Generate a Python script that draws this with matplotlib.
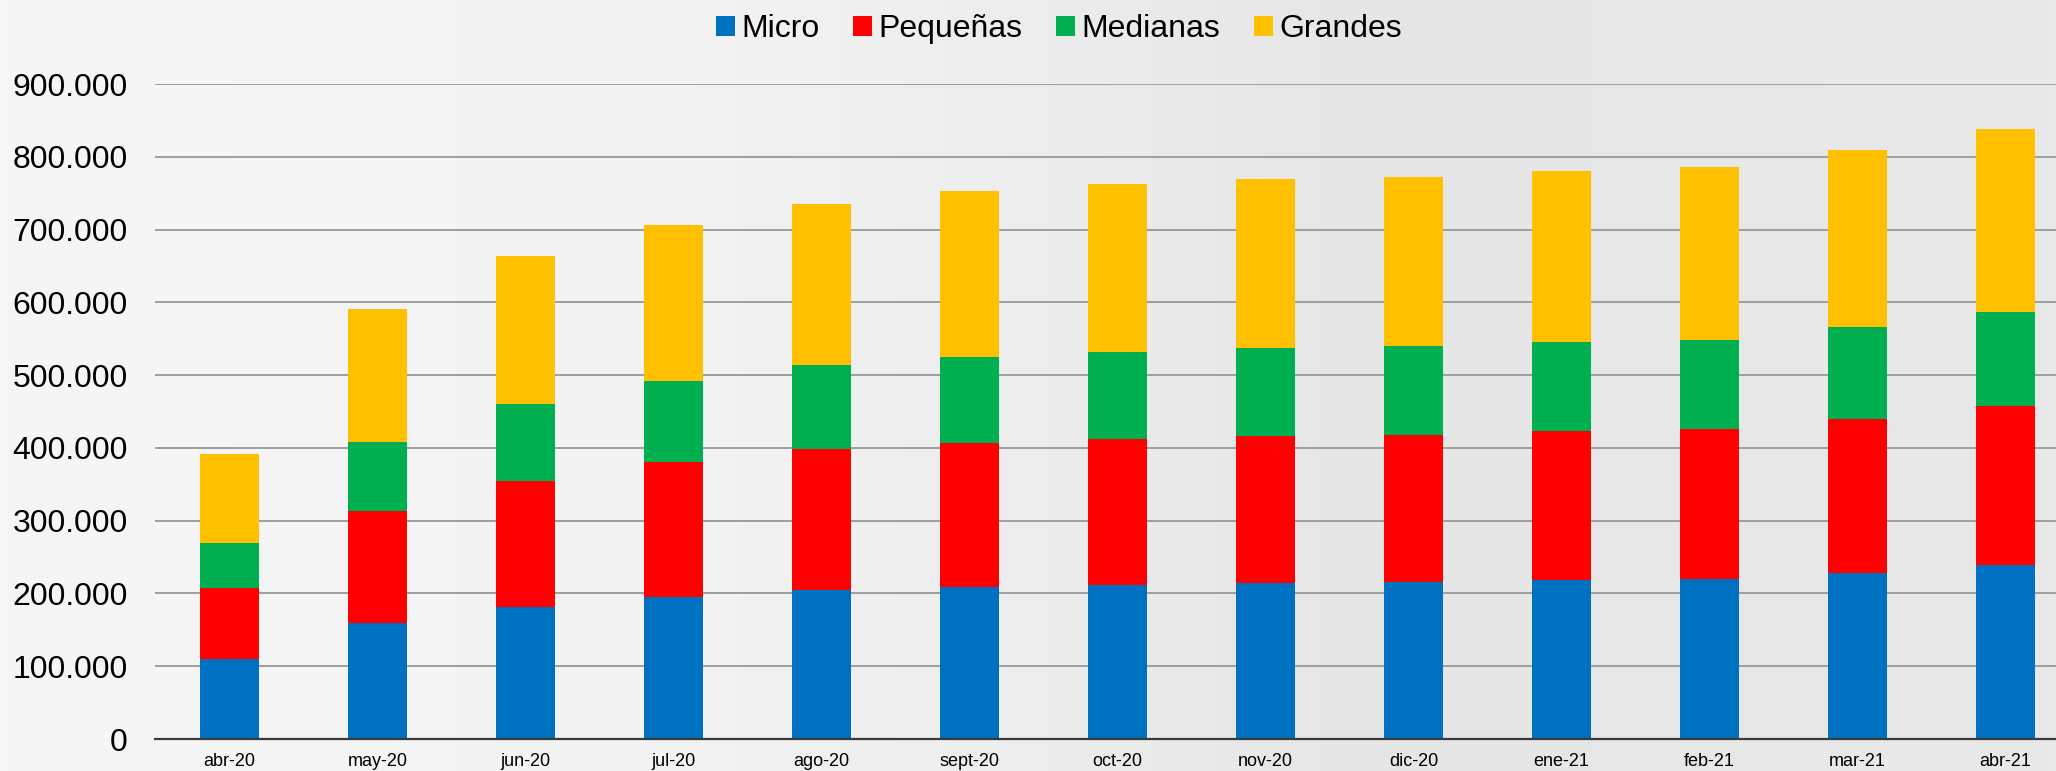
import matplotlib

matplotlib.use("Agg")
import matplotlib.pyplot as plt
import numpy as np
from matplotlib.ticker import FuncFormatter

plt.rcParams["font.family"] = ["Liberation Sans", "DejaVu Sans"]

months = ["abr-20", "may-20", "jun-20", "jul-20", "ago-20", "sept-20", "oct-20",
          "nov-20", "dic-20", "ene-21", "feb-21", "mar-21", "abr-21"]
micro = [110300, 158900, 180900, 194600, 204200, 209200, 212000,
         213800, 215700, 218000, 219800, 228000, 239400]
pequenas = [97500, 154700, 173900, 186400, 193700, 197400, 200100,
            202000, 202300, 205100, 206000, 212000, 218400]
medianas = [61400, 94400, 105400, 110800, 115400, 118100, 119900,
            120900, 121400, 122200, 122700, 125900, 128700]
grandes = [122700, 183100, 203300, 214200, 222000, 228000, 230400,
           232500, 233500, 235800, 237200, 244100, 251400]

series = [
    ("Micro", micro, "#0070C0"),
    ("Pequeñas", pequenas, "#FF0000"),
    ("Medianas", medianas, "#00B050"),
    ("Grandes", grandes, "#FFC000"),
]

fig = plt.figure(figsize=(20.56, 7.71), dpi=100)
fig.patch.set_facecolor("#f2f2f2")

# faint background gradient, lighter on the left
bg = fig.add_axes([0, 0, 1, 1], zorder=-10)
grad = np.linspace(0.0, 1.0, 256)[None, :]
bg.imshow(grad, aspect="auto", cmap=matplotlib.colors.LinearSegmentedColormap.from_list(
    "bg", ["#f6f6f6", "#f3f3f3", "#e6e6e6", "#e9e9e9"]), extent=[0, 1, 0, 1])
bg.axis("off")

ax = fig.add_axes([0.0756, 0.0415, 0.9244, 0.8495])
ax.patch.set_alpha(0)

x = np.arange(len(months))
bottom = np.zeros(len(months))
handles = []
for name, values, color in series:
    h = ax.bar(x, values, width=0.40, bottom=bottom, color=color, label=name, zorder=3)
    handles.append(h)
    bottom += np.array(values)

ax.set_xlim(-0.5, 12.34)
ax.set_ylim(0, 900000)
ax.set_yticks(np.arange(0, 900001, 100000))
ax.yaxis.set_major_formatter(FuncFormatter(lambda v, _: f"{int(v):,}".replace(",", ".")))
ax.set_xticks(x)
ax.set_xticklabels(months)

ax.grid(axis="y", color="#9e9e9e", linewidth=1.4, zorder=0)
for side in ["top", "right", "left"]:
    ax.spines[side].set_visible(False)
ax.spines["bottom"].set_color("#3a3a3a")
ax.spines["bottom"].set_linewidth(1.6)
ax.spines["bottom"].set_zorder(4)

ax.tick_params(axis="y", length=0, pad=20, labelsize=23, labelcolor="#000000")
ax.tick_params(axis="x", length=0, pad=10, labelsize=13, labelcolor="#000000")

fig.legend(handles=handles, labels=[s[0] for s in series], loc="center",
           bbox_to_anchor=(0.515, 0.962), ncol=4, frameon=False, fontsize=23,
           handlelength=0.6, handleheight=0.6, handletextpad=0.2, columnspacing=1.05)

fig.savefig("out.png", dpi=100, facecolor=fig.get_facecolor())
